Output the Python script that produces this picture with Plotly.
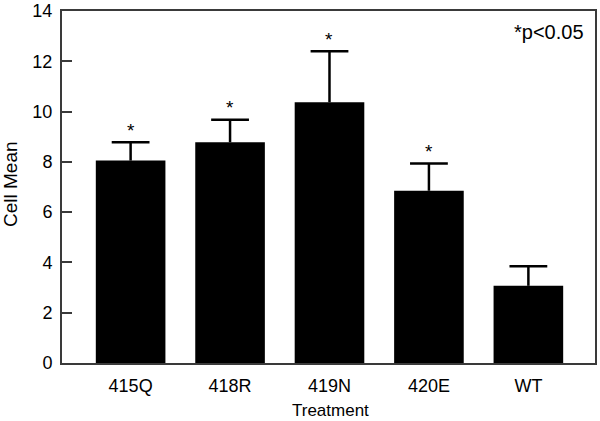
import plotly.graph_objects as go

categories = ["415Q", "418R", "419N", "420E", "WT"]
means = [8.05, 8.78, 10.37, 6.85, 3.07]
upper = [8.78, 9.67, 12.40, 7.93, 3.85]
significant = [True, True, True, True, False]

err_minus = [u - m for u, m in zip(upper, means)]
xs = list(range(len(categories)))

fig = go.Figure()
fig.add_trace(go.Bar(
    x=xs, y=means, width=0.7,
    marker=dict(color="black", line=dict(width=0)),
    showlegend=False, hoverinfo="skip",
))
# error bars: one-sided upward, drawn from the cap down to the bar top
fig.add_trace(go.Scatter(
    x=xs, y=upper, mode="markers",
    marker=dict(symbol="line-ew", size=27, color="black",
                line=dict(width=2.5, color="black")),
    error_y=dict(type="data", symmetric=False, array=[0] * len(upper),
                 arrayminus=err_minus, color="black", thickness=2.5, width=0),
    showlegend=False,
))

for i, (u, s) in enumerate(zip(upper, significant)):
    if s:
        fig.add_annotation(x=i, y=u, text="*", showarrow=False,
                           yshift=12, font=dict(size=19, color="black"))

font_family = "Liberation Sans, Arial, sans-serif"
fig.add_annotation(xref="paper", yref="paper", x=(586 - 62) / 533,
                   y=1 - (32 - 11) / 352,
                   xanchor="right", yanchor="middle", text="*p<0.05",
                   showarrow=False, font=dict(size=20, color="black"))
# axis titles
fig.add_annotation(xref="paper", yref="paper", x=(10 - 62) / 533,
                   y=1 - (184 - 11) / 352,
                   text="Cell Mean", textangle=-90, showarrow=False,
                   xanchor="center", yanchor="middle",
                   font=dict(size=19, color="black"))
fig.add_annotation(xref="paper", yref="paper", x=(330 - 62) / 533,
                   y=-(410 - 363) / 352, text="Treatment", showarrow=False,
                   xanchor="center", yanchor="middle",
                   font=dict(size=17, color="black"))

fig.update_layout(
    width=600, height=421,
    margin=dict(l=62, r=5, t=11, b=58, autoexpand=False),
    plot_bgcolor="white", paper_bgcolor="white",
    font=dict(family=font_family, color="black"),
)
fig.update_xaxes(
    range=[-0.69, 4.67],
    tickmode="array", tickvals=xs, ticktext=categories,
    ticks="", ticklabelstandoff=5, automargin=False,
    tickfont=dict(size=18),
    showline=True, linecolor="#3a3a3a", linewidth=2, mirror=True,
    showgrid=False, zeroline=False,
)
fig.update_yaxes(
    range=[0, 14], dtick=2, automargin=False,
    ticks="inside", ticklen=10, tickwidth=1.5, tickcolor="#3a3a3a",
    tickfont=dict(size=18), ticklabelstandoff=4,
    showline=True, linecolor="#3a3a3a", linewidth=2, mirror=True,
    showgrid=False, zeroline=False,
)

fig.write_html("out.html", config={"displayModeBar": False},
               post_script="document.body.style.margin='0';document.body.style.overflow='hidden';")
